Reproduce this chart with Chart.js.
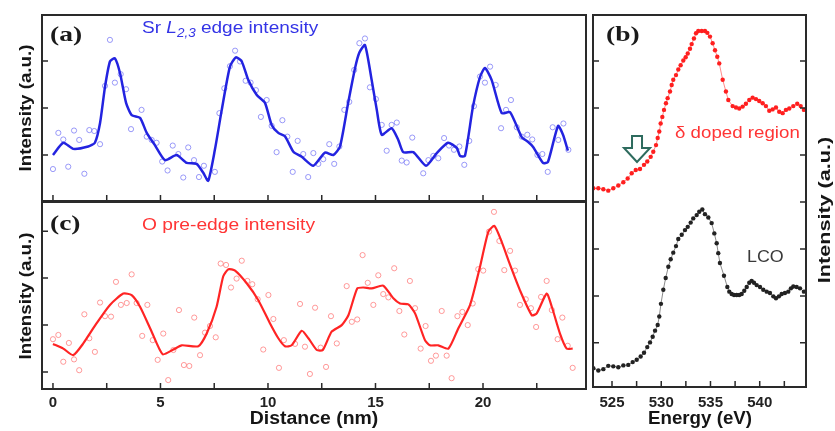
<!DOCTYPE html>
<html>
<head>
<meta charset="utf-8">
<script src="https://cdn.jsdelivr.net/npm/chart.js@4.4.1/dist/chart.umd.min.js"></script>
<style>
  body { margin: 0; background: #fff; }
  #wrap { position: relative; width: 835px; height: 431px; }
  #wrap canvas { position: absolute; left: 0; top: 0; }
</style>
</head>
<body>
<div id="wrap">
  <canvas id="chartA" width="835" height="431"></canvas>
  <canvas id="chartC" width="835" height="431"></canvas>
  <canvas id="chartB" width="835" height="431"></canvas>
</div>
<script>
// (a) Sr L2,3 edge intensity vs distance
var srLineNm = [0, 0.48, 0.94, 1.64, 1.95, 2.19, 2.42, 2.65, 2.88, 3.12, 3.40, 3.66, 4.05, 4.36, 4.74, 5.21, 5.75, 6.22, 6.68, 6.99,
    7.22, 7.53, 7.85, 8.23, 8.51, 8.78, 9.08, 9.47, 9.86, 10.17, 10.48, 10.79, 11.18, 11.57, 12.11, 12.65, 13.04, 13.35, 13.73, 14.05,
    14.25, 14.51, 14.82, 15.06, 15.29, 15.75, 16.06, 16.29, 16.76, 17.35, 17.85, 18.37, 18.78, 18.93, 19.16, 19.53, 19.86, 20.09, 20.40, 20.87,
    21.26, 21.80, 22.09, 22.33, 22.79, 23.02, 23.49, 23.72, 23.95];
var srLineVal = [1.00, 1.26, 1.13, 1.18, 1.26, 1.68, 2.45, 2.99, 3.06, 2.74, 2.11, 1.85, 1.79, 1.47, 1.21, 0.89, 1.00, 0.83, 0.81, 0.62,
    0.45, 1.11, 1.96, 2.88, 3.08, 2.99, 2.60, 2.28, 2.11, 1.64, 1.47, 1.40, 1.07, 0.96, 0.77, 1.05, 1.00, 1.18, 2.11, 2.85,
    3.18, 3.34, 2.60, 1.96, 1.43, 1.57, 1.32, 1.06, 1.06, 0.77, 1.04, 1.26, 1.15, 0.98, 0.98, 2.02, 2.66, 2.85, 2.60, 1.89,
    1.91, 1.38, 1.28, 1.17, 0.83, 0.85, 1.62, 1.43, 1.09];
var srDotNm = [0, 0.25, 0.48, 0.71, 0.98, 1.22, 1.46, 1.69, 1.92, 2.19, 2.42, 2.65, 2.88, 3.15, 3.40, 3.63, 4.12, 4.36, 4.59, 4.82,
    5.08, 5.33, 5.57, 5.83, 6.06, 6.29, 6.56, 6.79, 7.02, 7.53, 7.74, 7.97, 8.23, 8.47, 8.70, 8.96, 9.19, 9.44, 9.67, 9.94,
    10.17, 10.40, 10.67, 10.90, 11.15, 11.38, 11.64, 11.87, 12.11, 12.34, 12.57, 12.85, 13.08, 13.32, 13.55, 13.78, 14.01, 14.25, 14.51, 14.74,
    15.02, 15.29, 15.52, 15.75, 15.99, 16.22, 16.45, 16.71, 17.22, 17.46, 17.69, 17.92, 18.19, 18.42, 18.65, 18.90, 19.13, 19.36, 19.58, 19.86,
    20.09, 20.33, 20.59, 20.84, 21.07, 21.30, 21.57, 21.80, 22.06, 22.29, 22.53, 22.76, 23.01, 23.24, 23.50, 23.74, 23.97];
var srDotVal = [0.70, 1.47, 1.33, 0.75, 1.52, 1.32, 0.60, 1.53, 1.51, 1.23, 2.47, 3.45, 2.54, 2.72, 2.40, 1.55, 1.96, 1.39, 1.32, 1.26,
    0.86, 0.67, 1.20, 1.02, 0.52, 1.16, 0.89, 0.53, 0.77, 0.64, 1.89, 2.42, 2.89, 3.22, 2.99, 2.58, 2.54, 2.38, 1.81, 2.17,
    1.62, 1.06, 1.74, 1.39, 0.64, 1.30, 1.02, 0.53, 1.04, 0.81, 0.91, 1.23, 0.81, 1.18, 1.96, 2.13, 2.81, 3.38, 3.48, 2.44,
    2.19, 1.64, 1.09, 1.64, 1.69, 0.88, 0.84, 1.37, 0.61, 0.89, 0.98, 0.93, 1.36, 1.20, 1.11, 1.18, 0.79, 1.30, 2.04, 2.67,
    2.54, 2.88, 2.49, 1.57, 1.96, 2.17, 1.59, 1.39, 1.43, 1.33, 1.00, 1.02, 0.64, 1.59, 1.32, 1.67, 1.11];

// (c) O pre-edge intensity vs distance
var oLineNm = [0, 0.48, 0.94, 1.41, 2.03, 2.65, 3.27, 3.66, 4.05, 4.59, 5.10, 5.60, 5.99, 6.76, 7.15, 7.61, 7.92, 8.16, 8.47, 9.01,
    9.55, 10.09, 10.48, 10.79, 11.10, 11.57, 11.88, 12.27, 12.55, 12.96, 13.43, 13.74, 14.15, 14.43, 14.82, 15.36, 15.83, 16.14, 16.53, 16.84,
    17.30, 17.53, 17.92, 18.39, 18.85, 19.40, 19.86, 20.25, 20.53, 20.87, 21.26, 21.72, 22.27, 22.50, 22.96, 23.20, 23.58, 23.89, 24.17];
var oLineVal = [1.60, 1.50, 1.36, 1.61, 2.04, 2.43, 2.67, 2.64, 2.39, 1.86, 1.38, 1.48, 1.57, 1.55, 1.82, 2.39, 3.04, 3.19, 3.16, 2.89,
    2.53, 2.04, 1.72, 1.55, 1.57, 1.88, 1.72, 1.47, 1.47, 1.86, 2.00, 2.21, 2.78, 2.80, 2.78, 2.84, 2.57, 2.46, 2.44, 2.25,
    1.68, 1.57, 1.57, 1.50, 1.93, 2.43, 3.24, 3.99, 4.11, 3.77, 3.28, 2.74, 2.21, 2.25, 2.67, 2.39, 1.82, 1.50, 1.50];
var oDotNm = [0, 0.25, 0.48, 0.74, 0.98, 1.22, 1.46, 1.69, 1.95, 2.19, 2.42, 2.70, 2.93, 3.16, 3.43, 3.66, 3.89, 4.15, 4.39, 4.64,
    4.87, 5.13, 5.36, 5.60, 5.86, 6.09, 6.34, 6.57, 6.84, 7.07, 7.30, 7.57, 7.80, 8.05, 8.28, 8.54, 8.78, 9.04, 9.27, 9.52,
    9.78, 10.02, 10.25, 10.51, 10.74, 11.26, 11.49, 11.72, 11.95, 12.19, 12.45, 12.70, 12.93, 13.20, 13.66, 13.90, 14.15, 14.40, 14.64, 14.90,
    15.13, 15.36, 15.60, 15.87, 16.11, 16.34, 16.60, 16.84, 17.10, 17.33, 17.58, 17.81, 18.08, 18.31, 18.54, 18.81, 19.04, 19.29, 19.52, 19.78,
    20.01, 20.28, 20.51, 20.76, 20.99, 21.26, 21.49, 21.72, 21.99, 22.23, 22.47, 22.70, 22.96, 23.20, 23.47, 23.69, 23.94, 24.17];
var oDotVal = [1.70, 1.79, 1.22, 1.62, 1.27, 1.04, 2.23, 1.72, 1.43, 2.48, 2.19, 2.18, 2.92, 2.43, 2.47, 3.08, 2.47, 1.77, 2.43, 1.68,
    1.26, 1.82, 0.83, 1.47, 2.32, 1.15, 1.13, 2.16, 1.36, 1.84, 1.98, 1.74, 3.31, 3.28, 2.80, 2.99, 3.37, 2.94, 2.87, 2.55,
    1.48, 2.64, 2.13, 1.09, 1.68, 1.60, 2.45, 1.54, 0.96, 2.37, 1.52, 1.11, 2.19, 1.61, 2.83, 2.07, 2.12, 3.49, 2.90, 2.43,
    3.06, 2.66, 2.59, 3.21, 2.30, 1.80, 2.94, 2.36, 1.50, 1.98, 1.24, 1.35, 2.30, 1.35, 0.87, 2.19, 2.28, 2.00, 2.46, 3.19,
    3.16, 3.99, 4.41, 3.79, 3.17, 3.58, 3.16, 2.43, 2.55, 2.36, 1.96, 2.60, 2.94, 2.32, 1.70, 2.16, 1.56, 1.09];

// (b) O K-edge spectra, offset vertically
var dopedE = [523.10, 523.61, 524.12, 524.62, 525.13, 525.64, 526.15, 526.59, 527.00, 527.41,
    527.84, 528.25, 528.58, 528.93, 529.19, 529.47, 529.64, 529.80, 529.94, 530.11,
    530.28, 530.48, 530.65, 530.89, 531.06, 531.22, 531.50, 531.73, 531.97, 532.24,
    532.48, 532.69, 532.92, 533.09, 533.32, 533.53, 533.76, 534.11, 534.44, 534.68,
    534.95, 535.22, 535.46, 535.69, 535.89, 536.24, 536.57, 536.81, 537.25, 537.59,
    537.92, 538.27, 538.60, 538.94, 539.28, 539.62, 539.95, 540.30, 540.63, 540.97,
    541.31, 541.65, 541.98, 542.33, 542.66, 543.00, 543.41, 543.81, 544.16, 544.49];
var dopedVal = [4.29, 4.29, 4.27, 4.24, 4.29, 4.35, 4.42, 4.50, 4.61, 4.68,
    4.70, 4.79, 4.86, 4.96, 5.07, 5.21, 5.36, 5.50, 5.67, 5.81,
    5.96, 6.10, 6.21, 6.35, 6.49, 6.60, 6.70, 6.82, 6.91, 7.01,
    7.08, 7.16, 7.26, 7.36, 7.48, 7.59, 7.64, 7.64, 7.64, 7.60,
    7.52, 7.38, 7.23, 7.09, 6.95, 6.60, 6.35, 6.17, 6.04, 6.01,
    5.99, 6.03, 6.09, 6.17, 6.22, 6.19, 6.15, 6.10, 6.04, 5.94,
    5.97, 6.01, 5.92, 5.89, 5.96, 5.99, 6.04, 6.09, 6.04, 5.96];
var lcoE = [523.10, 523.61, 524.12, 524.62, 525.13, 525.64, 526.15, 526.65, 527.10, 527.51,
    527.91, 528.25, 528.58, 528.86, 529.13, 529.37, 529.64, 529.80, 529.97, 530.21,
    530.45, 530.72, 530.96, 531.22, 531.50, 531.73, 532.08, 532.41, 532.69, 532.99,
    533.25, 533.60, 533.86, 534.17, 534.44, 534.78, 535.12, 535.39, 535.63, 535.79,
    535.96, 536.37, 536.71, 536.91, 537.15, 537.39, 537.66, 537.92, 538.17, 538.43,
    538.68, 538.94, 539.18, 539.42, 539.69, 540.03, 540.36, 540.71, 541.04, 541.38,
    541.65, 541.95, 542.23, 542.56, 542.90, 543.17, 543.41, 543.75, 544.09, 544.49];
var lcoVal = [0.46, 0.41, 0.44, 0.51, 0.50, 0.48, 0.52, 0.53, 0.59, 0.64,
    0.71, 0.79, 0.91, 1.01, 1.13, 1.26, 1.38, 1.56, 1.83, 2.13,
    2.38, 2.62, 2.78, 2.92, 3.06, 3.21, 3.30, 3.40, 3.47, 3.56,
    3.65, 3.72, 3.79, 3.84, 3.74, 3.67, 3.55, 3.33, 3.12, 2.91,
    2.70, 2.43, 2.19, 2.09, 2.04, 2.02, 2.02, 2.02, 2.04, 2.11,
    2.19, 2.28, 2.32, 2.28, 2.23, 2.19, 2.13, 2.09, 2.06, 1.99,
    1.95, 1.99, 2.04, 2.06, 2.09, 2.16, 2.20, 2.19, 2.16, 2.09];

// ticks
var distanceTicks = [0, 2.5, 5, 7.5, 10, 12.5, 15, 17.5, 20, 22.5];
var energyTicks = [525, 527.5, 530, 532.5, 535, 537.5, 540, 542.5];
var aTicks = [1, 2, 3];
var cTicks = [1, 2, 3, 4];
var bTicks = [1, 2, 3, 4, 5, 6, 7];

var SANS = "'Liberation Sans', Arial, sans-serif";
var SERIF = "'Liberation Serif', 'Times New Roman', serif";
var INK = '#151515';

function pts(xs, ys) {
    var out = [];
    for (var i = 0; i < xs.length; i++) {
        out.push({x: xs[i], y: ys[i]});
    }
    return out;
}

function setTicks(list) {
    return function (scale) {
        scale.ticks = list.map(function (v) { return {value: v}; });
    };
}

function labelEvery5(v) {
    return v % 5 === 0 ? String(v) : '';
}

// frame, inward ticks, text and the arrow
var framePlugin = {
    id: 'frame',
    afterDatasetsDraw: function (chart, args, opts) {
        var ctx = chart.ctx;
        var a = chart.chartArea;
        var len = 6;
        ctx.save();
        ctx.strokeStyle = '#2a2a2a';
        ctx.lineWidth = 1.5;
        ctx.beginPath();
        chart.scales.x.ticks.forEach(function (t) {
            var px = chart.scales.x.getPixelForValue(t.value);
            ctx.moveTo(px, a.bottom);
            ctx.lineTo(px, a.bottom - len);
        });
        chart.scales.y.ticks.forEach(function (t) {
            var py = chart.scales.y.getPixelForValue(t.value);
            ctx.moveTo(a.left, py);
            ctx.lineTo(a.left + len, py);
            if (opts.rightTicks) {
                ctx.moveTo(a.right, py);
                ctx.lineTo(a.right - len, py);
            }
        });
        ctx.stroke();
        ctx.lineWidth = 2;
        ctx.strokeRect(a.left, a.top, a.right - a.left, a.bottom - a.top);

        (opts.texts || []).forEach(function (t) {
            ctx.save();
            ctx.fillStyle = t.color;
            ctx.textAlign = t.align || 'left';
            ctx.textBaseline = t.baseline || 'alphabetic';
            ctx.translate(t.x, t.y);
            if (t.rotate) ctx.rotate(t.rotate);
            if (t.sx) ctx.scale(t.sx, 1);
            if (t.runs) {
                var x = 0;
                t.runs.forEach(function (r) {
                    ctx.font = r.font;
                    ctx.fillText(r.text, x, r.dy || 0);
                    x += ctx.measureText(r.text).width;
                });
            } else {
                ctx.font = t.font;
                ctx.fillText(t.text, 0, 0);
            }
            ctx.restore();
        });

        if (opts.arrow) {
            var tx = chart.scales.x.getPixelForValue(opts.arrow.x);
            var ty = chart.scales.y.getPixelForValue(opts.arrow.y);
            ctx.strokeStyle = '#2e6b5e';
            ctx.lineWidth = 2;
            ctx.fillStyle = '#fff';
            ctx.beginPath();
            ctx.moveTo(tx, ty);
            ctx.lineTo(tx - 13, ty - 14);
            ctx.lineTo(tx - 5, ty - 14);
            ctx.lineTo(tx - 5, ty - 26);
            ctx.lineTo(tx + 5, ty - 26);
            ctx.lineTo(tx + 5, ty - 14);
            ctx.lineTo(tx + 13, ty - 14);
            ctx.closePath();
            ctx.fill();
            ctx.stroke();
        }
        ctx.restore();
    }
};

function yTitle(x, y) {
    return {text: 'Intensity (a.u.)', x: x, y: y, font: 'bold 16px ' + SANS, color: INK,
        align: 'center', rotate: -Math.PI / 2, sx: 1.17};
}

function hiddenAxis(min, max, list, size, horizontal) {
    return {
        type: 'linear', min: min, max: max,
        grid: {display: false, drawTicks: false}, border: {display: false},
        ticks: {display: false},
        afterBuildTicks: setTicks(list),
        afterFit: function (s) {
            if (horizontal) s.height = size; else s.width = size;
        }
    };
}

function labelledAxis(min, max, list, size, pad) {
    return {
        type: 'linear', min: min, max: max,
        grid: {display: false, drawTicks: false}, border: {display: false},
        ticks: {
            color: '#222', padding: pad, maxRotation: 0, autoSkip: false,
            font: {family: SANS, size: 15, weight: 'bold'},
            callback: labelEvery5
        },
        afterBuildTicks: setTicks(list),
        afterFit: function (s) { s.height = size; }
    };
}

var common = {
    responsive: false,
    animation: false,
    events: []
};

// panel (a)
new Chart(document.getElementById('chartA'), {
    type: 'scatter',
    data: {
        datasets: [{
            type: 'line',
            data: pts(srLineNm, srLineVal),
            borderColor: '#2323e0',
            borderWidth: 2.5,
            pointRadius: 0,
            tension: 0.2,
            fill: false
        }, {
            data: pts(srDotNm, srDotVal),
            pointRadius: 2.6,
            borderWidth: 1,
            borderColor: 'rgba(120,120,245,0.75)',
            backgroundColor: 'rgba(0,0,0,0)'
        }]
    },
    options: Object.assign({}, common, {
        layout: {padding: {left: 0, top: 15, right: 249, bottom: 230}},
        plugins: {
            legend: {display: false},
            tooltip: {enabled: false},
            frame: {
                texts: [
                    {text: '(a)', x: 50, y: 35, font: 'bold 22px ' + SERIF, color: '#1a1a1a', baseline: 'middle', sx: 1.25},
                    {x: 142, y: 33, color: '#3434e6', sx: 1.12, runs: [
                        {text: 'Sr ', font: '17px ' + SANS},
                        {text: 'L', font: 'italic 17px ' + SANS},
                        {text: '2,3', font: 'italic 12px ' + SANS, dy: 4},
                        {text: ' edge intensity', font: '17px ' + SANS}
                    ]},
                    yTitle(31, 108)
                ]
            }
        },
        scales: {
            x: hiddenAxis(-0.51, 24.79, distanceTicks, 0, true),
            y: hiddenAxis(0.02, 3.98, aTicks, 42, false)
        }
    }),
    plugins: [framePlugin]
});

// panel (c)
new Chart(document.getElementById('chartC'), {
    type: 'scatter',
    data: {
        datasets: [{
            type: 'line',
            data: pts(oLineNm, oLineVal),
            borderColor: '#ff2424',
            borderWidth: 2.2,
            pointRadius: 0,
            tension: 0.2,
            fill: false
        }, {
            data: pts(oDotNm, oDotVal),
            pointRadius: 2.6,
            borderWidth: 1,
            borderColor: 'rgba(255,120,120,0.75)',
            backgroundColor: 'rgba(0,0,0,0)'
        }]
    },
    options: Object.assign({}, common, {
        layout: {padding: {left: 0, top: 202, right: 249, bottom: 0}},
        plugins: {
            legend: {display: false},
            tooltip: {enabled: false},
            frame: {
                texts: [
                    {text: '(c)', x: 50, y: 224, font: 'bold 22px ' + SERIF, color: '#1a1a1a', baseline: 'middle', sx: 1.25},
                    {text: 'O pre-edge intensity', x: 142, y: 230, font: '17px ' + SANS, color: '#ff3535', sx: 1.13},
                    {text: 'Distance (nm)', x: 314, y: 419, font: 'bold 18px ' + SANS, color: INK,
                        align: 'center', baseline: 'middle', sx: 1.08},
                    yTitle(31, 296)
                ]
            }
        },
        scales: {
            x: labelledAxis(-0.51, 24.79, distanceTicks, 42, 5),
            y: hiddenAxis(0.64, 4.62, cTicks, 42, false)
        }
    }),
    plugins: [framePlugin]
});

// panel (b)
new Chart(document.getElementById('chartB'), {
    type: 'line',
    data: {
        datasets: [{
            data: pts(dopedE, dopedVal),
            borderColor: 'rgba(255,60,60,0.6)',
            borderWidth: 1,
            pointRadius: 2.2,
            pointBorderWidth: 0,
            pointBackgroundColor: '#ff1f1f',
            tension: 0,
            fill: false
        }, {
            data: pts(lcoE, lcoVal),
            borderColor: 'rgba(60,60,60,0.6)',
            borderWidth: 1,
            pointRadius: 2.2,
            pointBorderWidth: 0,
            pointBackgroundColor: '#222',
            tension: 0,
            fill: false
        }]
    },
    options: Object.assign({}, common, {
        layout: {padding: {left: 593, top: 15, right: 29, bottom: 0}},
        plugins: {
            legend: {display: false},
            tooltip: {enabled: false},
            frame: {
                rightTicks: true,
                arrow: {x: 527.54, y: 4.85},
                texts: [
                    {text: '(b)', x: 606, y: 35, font: 'bold 22px ' + SERIF, color: '#1a1a1a', baseline: 'middle', sx: 1.25},
                    {text: '\u03b4 doped region', x: 675, y: 138, font: '17px ' + SANS, color: '#ff3535', sx: 1.1},
                    {text: 'LCO', x: 747, y: 262, font: '17px ' + SANS, color: '#3a3a3a', sx: 1.05},
                    {text: 'Energy (eV)', x: 700, y: 419, font: 'bold 18px ' + SANS, color: INK,
                        align: 'center', baseline: 'middle', sx: 1.04},
                    {text: 'Intensity (a.u.)', x: 830, y: 210, font: 'bold 16px ' + SANS, color: INK,
                        align: 'center', rotate: -Math.PI / 2, sx: 1.35}
                ]
            }
        },
        scales: {
            x: labelledAxis(523.07, 544.70, energyTicks, 44, 7),
            y: hiddenAxis(0.06, 7.98, bTicks, 0, false)
        }
    }),
    plugins: [framePlugin]
});
</script>
</body>
</html>
